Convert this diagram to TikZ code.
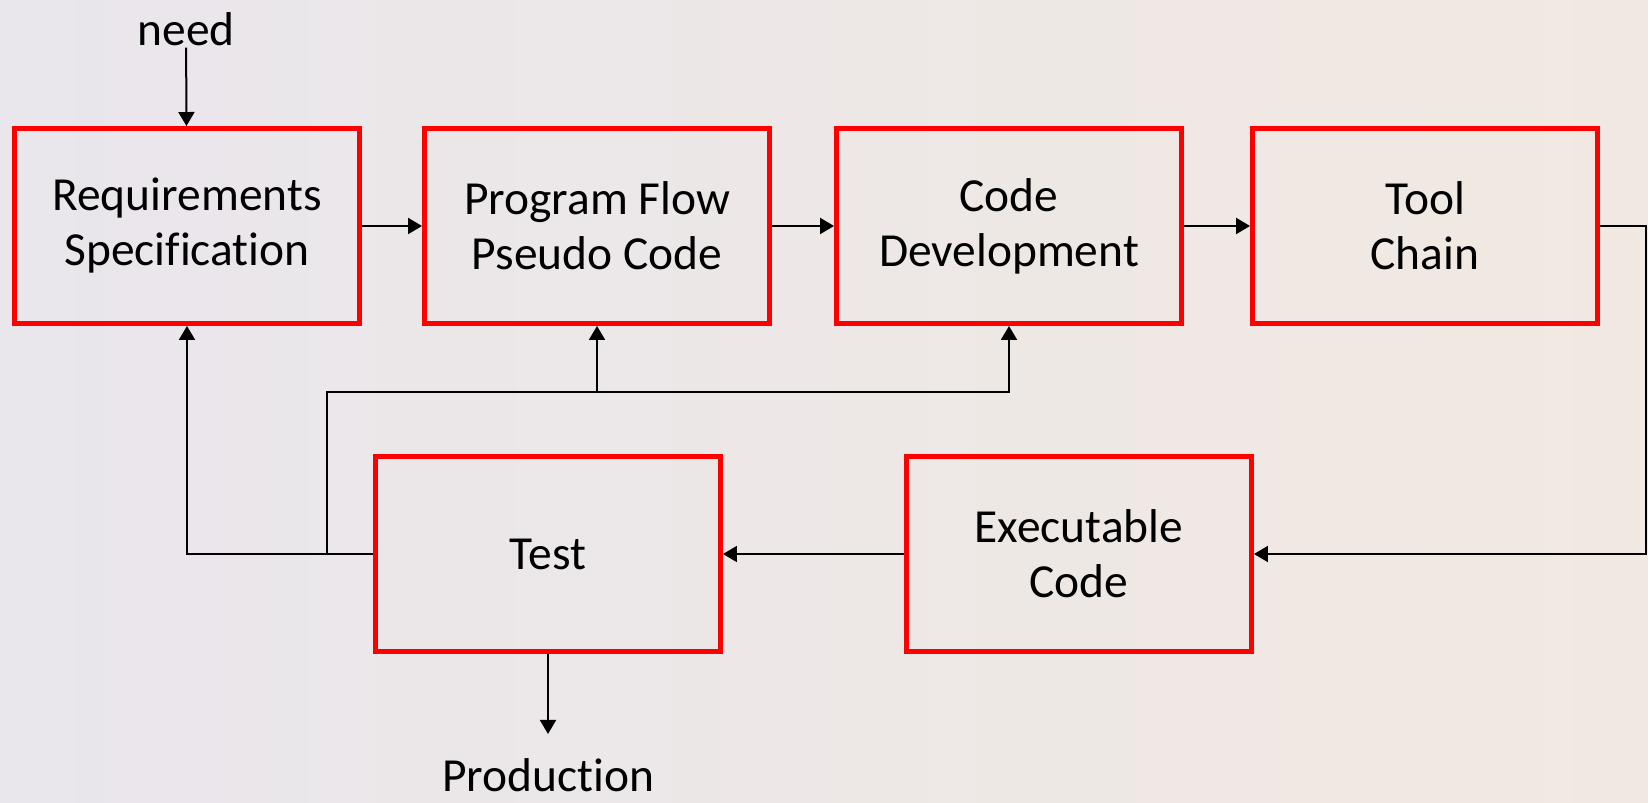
\documentclass[tikz,border=0pt]{standalone}
\usepackage{fontspec}
\setmainfont{Carlito}[Ligatures=NoCommon]
\usetikzlibrary{arrows.meta}
\definecolor{bgleft}{HTML}{E9E6EC}
\definecolor{bgright}{HTML}{F1E9E1}

\begin{document}
\begin{tikzpicture}
  [x=0.02cm, y=-0.02cm,
   stage/.style={draw=red, line width=0.1cm, minimum width=6.9cm,
     minimum height=3.9cm, align=center, inner sep=0pt,
     font=\fontsize{27}{31.3}\selectfont},
   lbl/.style={font=\fontsize{27}{31.3}\selectfont, inner sep=1pt},
   arr/.style={line width=0.04cm, -{Triangle[width=0.32cm,length=0.28cm]}}]
    % background
    \shade[left color=bgleft, right color=bgright] (0,0) rectangle (1648,803);
    \useasboundingbox (0,0) rectangle (1648,803);
    % top row
    \node[stage] (req) at (187,226) {Requirements\\Specification};
    \node[stage] (flow) at (597,226) {Program Flow\\Pseudo Code};
    \node[stage] (dev) at (1009,226) {Code\\Development};
    \node[stage] (tool) at (1425,226) {Tool\\Chain};
    % bottom row
    \node[stage] (test) at (548,554) {Test};
    \node[stage] (exec) at (1079,554) {Executable\\Code};
    % in and out
    \node[lbl] (need) at (186,29) {need};
    \node[lbl] (prod) at (548,775) {Production};
    \coordinate (tap) at (327,554);
    \coordinate (bus) at (327,392);
    \draw[arr] (need) -- (req);
    \draw[arr] (req) -- (flow);
    \draw[arr] (flow) -- (dev);
    \draw[arr] (dev) -- (tool);
    \draw[arr] (tool.east) -- ++(46,0) |- (exec.east);
    \draw[arr] (exec) -- (test);
    \draw[arr] (test.west) -| (req.south);
    \draw[arr] (tap) -- (bus) -| (dev.south);
    \draw[arr] (bus -| flow.south) -- (flow.south);
    \draw[arr] (test.south) -- ++(0,80);
  \end{tikzpicture}
\end{document}
